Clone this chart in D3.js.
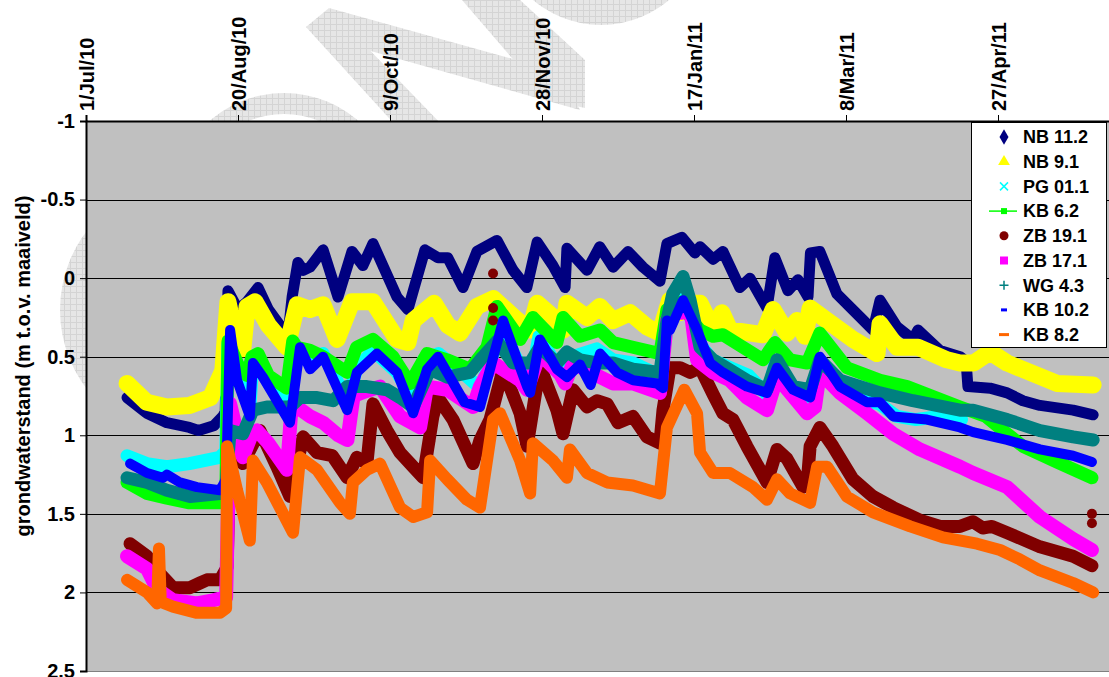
<!DOCTYPE html>
<html><head><meta charset="utf-8">
<script src="https://cdn.jsdelivr.net/npm/d3@7"></script>
<style>
body{margin:0;background:#fff}
svg{display:block}
text{font-family:"Liberation Sans",Arial,sans-serif;font-weight:bold;fill:#000}
</style>
</head><body>
<svg id="chart" width="1109" height="677"></svg>
<script>
// ---------- data ----------
const startDate = "2010-07-01";           // day 0 of the day offsets below
const xDomain = ["2010-07-01", "2011-06-16"];
const xTickDates = ["2010-07-01","2010-08-20","2010-10-09","2010-11-28","2011-01-17","2011-03-08","2011-04-27"];
const xTickLabels = ["1/Jul/10","20/Aug/10","9/Oct/10","28/Nov/10","17/Jan/11","8/Mar/11","27/Apr/11"];
const yTicks = [-1, -0.5, 0, 0.5, 1, 1.5, 2, 2.5];
const yTickLabels = ["-1","-0.5","0","0.5","1","1.5","2","2.5"];
const yTitle = "grondwaterstand (m t.o.v. maaiveld)";

const seriesNames  = ["NB 11.2","NB 9.1","PG 01.1","KB 6.2","ZB 19.1","ZB 17.1","WG 4.3","KB 10.2","KB 8.2"];
const seriesColors = ["#000080","#FFFF00","#00FFFF","#00FF00","#800000","#FF00FF","#008080","#0000FF","#FF6600"];

// [days since startDate, groundwater level (m below surface)]
const nb112 = [[13.5,0.76],[20,0.86],[26.6,0.92],[34,0.95],[37,0.97],[42,0.94],[45,0.88],[45.8,0.85],[46.7,0.08],[50,0.20],[53,0.15],[56.6,0.06],[60,0.20],[66.4,0.37],[67.8,0.12],[69.7,-0.10],[71.5,-0.05],[73.7,-0.07],[78,-0.18],[82.9,0.12],[87.5,-0.17],[91.1,-0.08],[94.4,-0.22],[102.3,0.12],[105.9,0.20],[111.5,-0.18],[115.8,-0.13],[119,-0.13],[124,0.06],[128.6,-0.17],[135.2,-0.24],[140.5,-0.05],[145,0.06],[148.4,-0.23],[153.6,-0.08],[157.6,0.06],[158.2,-0.19],[164.8,-0.05],[169,-0.20],[173.4,-0.07],[178.3,-0.17],[183.2,-0.07],[188.8,0.02],[191.1,-0.22],[196,-0.26],[200.3,-0.16],[202,-0.20],[206.3,-0.12],[209.5,-0.17],[215.1,0.06],[218.4,0.00],[224,0.19],[226.6,-0.13],[230.9,0.08],[234.2,0.01],[237.5,0.12],[238.3,-0.16],[241.4,-0.17],[247,0.10],[258.9,0.33],[261.2,0.14],[266.8,0.31],[272,0.39],[273.7,0.33],[280.9,0.46],[287.5,0.50],[289.5,0.53],[290.1,0.69],[297.4,0.70],[303,0.73],[308.2,0.78],[313.8,0.81],[324.7,0.84],[331.3,0.87]];
const nb91 = [[13.5,0.67],[20,0.79],[26.6,0.82],[34,0.81],[41,0.76],[45,0.59],[46.7,0.15],[49.5,0.40],[51.6,0.45],[53,0.18],[55.6,0.15],[60,0.30],[66.1,0.44],[69.4,0.17],[73.7,0.20],[78,0.17],[82.6,0.39],[87.5,0.15],[94.4,0.15],[102.3,0.39],[105.9,0.41],[107.6,0.27],[114.5,0.16],[119,0.30],[123,0.35],[128.6,0.18],[134,0.13],[142,0.27],[146,0.33],[148.4,0.16],[155,0.27],[157,0.33],[158.2,0.16],[164.8,0.25],[169,0.18],[173.4,0.27],[179,0.22],[184.5,0.31],[188.8,0.35],[192,0.14],[195.4,0.22],[199.7,0.16],[202,0.16],[206.3,0.33],[209.2,0.22],[211.8,0.33],[222.7,0.36],[226,0.20],[230.6,0.35],[233.9,0.27],[236.5,0.37],[238.2,0.19],[243.8,0.27],[252.3,0.39],[260.2,0.48],[261.2,0.29],[266.8,0.44],[273.7,0.44],[283.2,0.52],[287.5,0.54],[292,0.54],[297.4,0.47],[303,0.54],[319.4,0.67],[331.3,0.68]];
const pg011 = [[13.5,1.13],[20,1.18],[26.6,1.20],[34,1.18],[44,1.14],[46,1.10],[46.7,0.42],[50,0.62],[54,0.80],[55,0.50],[58,0.60],[66,0.85],[68,0.42],[73.7,0.50],[78,0.48],[85.9,0.78],[89,0.58],[94.4,0.46],[102.3,0.60],[106.6,0.74],[111,0.52],[116,0.48],[125,0.62],[129.6,0.70],[134,0.48],[136,0.30],[145,0.64],[146,0.68],[149,0.37],[155,0.56],[158,0.60],[160,0.50],[168,0.45],[173.4,0.52],[180,0.54],[188.8,0.62],[192,0.22],[196,0.10],[199,0.22],[202,0.42],[206,0.52],[212,0.57],[218,0.62],[224,0.74],[226.6,0.55],[231,0.68],[236,0.78],[238.2,0.80],[241.4,0.53],[248,0.66],[256,0.78],[261,0.80],[266.8,0.88],[273,0.90],[281,0.88],[288,0.90]];
const kb62 = [[13.5,1.30],[20,1.37],[26.6,1.40],[34,1.43],[44,1.43],[46,1.40],[46.7,0.40],[50,0.55],[53,0.62],[54.6,0.50],[56.6,0.48],[60,0.62],[66,0.70],[68,0.40],[69.4,0.44],[73.7,0.46],[78,0.50],[85.9,0.60],[89,0.44],[94.4,0.39],[101,0.50],[106.6,0.67],[112.2,0.48],[118.8,0.52],[126.3,0.58],[131.9,0.44],[135.2,0.18],[142.8,0.39],[147,0.25],[154.9,0.41],[156.9,0.25],[162.5,0.37],[169.1,0.33],[173.4,0.41],[179.9,0.44],[188.8,0.48],[191.1,0.20],[196.1,0.15],[199.7,0.28],[202,0.33],[206.3,0.37],[209.5,0.36],[222.7,0.52],[226.6,0.41],[231.6,0.52],[237.2,0.54],[241.4,0.35],[250.3,0.57],[261.2,0.65],[270.1,0.69],[287.5,0.82],[296,0.88],[303,0.99],[308.2,1.07],[319.4,1.17],[330.9,1.27]];
const zb191 = [[14.5,1.69],[20.1,1.77],[24.3,1.88],[28.6,1.97],[34.2,1.97],[37.5,1.94],[39.8,1.92],[44.1,1.92],[46.4,1.84],[47.5,1.05],[51.6,1.18],[57.2,0.97],[62.8,1.20],[67.1,1.39],[71.4,1.01],[76,1.11],[81,1.13],[85.9,1.27],[89.1,1.14],[92.4,1.18],[94.4,0.80],[99,0.97],[103.3,1.11],[107.6,1.20],[110.9,1.27],[114.1,0.88],[115.8,0.76],[120.7,0.90],[127.3,1.18],[129.6,1.03],[132.9,0.90],[137.2,0.58],[142.8,0.86],[145.1,1.07],[149.3,0.56],[154.9,0.84],[156.9,0.99],[160.2,0.71],[164.8,0.82],[168.1,0.78],[171.4,0.80],[175,0.92],[179.9,0.88],[184.5,1.01],[188.8,1.05],[189.8,0.84],[192.1,0.57],[195.4,0.57],[198.7,0.60],[202,0.57],[206.3,0.74],[209.5,0.86],[212.8,0.90],[217.4,1.07],[224,1.30],[227.3,1.09],[230.6,1.15],[235.9,1.33],[237.5,1.24],[238.2,1.07],[241.4,0.95],[245.7,1.07],[252.3,1.28],[258.9,1.39],[265.5,1.46],[274.3,1.54],[281,1.58],[287.5,1.58],[291.8,1.55],[295,1.59],[298,1.58],[303,1.62],[313.8,1.71],[324.7,1.77],[330.9,1.83]];
const zb191Outliers = [[133.9,-0.03],[133.9,0.19],[133.9,0.27],[133.9,0.44],[113.2,0.97],[113.2,1.04],[330.9,1.50],[330.9,1.56]];
const zb171 = [[13.5,1.77],[20.1,1.85],[23.4,1.98],[28.6,2.05],[36.5,2.07],[41.8,2.05],[46.1,2.03],[46.8,1.40],[47.4,0.80],[48.4,0.88],[51.6,1.14],[54.6,0.99],[56.3,0.97],[60,1.05],[66.1,1.22],[67.5,0.85],[69.4,0.82],[73.7,0.88],[78,0.92],[83,1.00],[86,1.03],[88,0.75],[92,0.72],[96.7,0.69],[103.3,0.88],[109.9,0.95],[112.2,0.69],[118.8,0.71],[127.3,0.82],[129.6,0.69],[133.9,0.54],[142.8,0.65],[145.1,0.71],[149.3,0.48],[155.9,0.61],[157.6,0.67],[160.2,0.54],[168.1,0.62],[173.4,0.67],[179.9,0.67],[188.8,0.73],[191.1,0.27],[193.1,0.19],[196,0.22],[198.7,0.18],[201,0.52],[206.3,0.60],[211.8,0.65],[217.4,0.76],[224,0.84],[227.3,0.63],[231.6,0.73],[237.2,0.86],[239.8,0.82],[241.4,0.60],[248,0.73],[256.9,0.86],[265.5,0.99],[274.3,1.09],[287.5,1.20],[291.8,1.24],[303,1.33],[313.8,1.52],[324.7,1.66],[330.9,1.73]];
const wg43 = [[13.5,1.27],[20.1,1.30],[26.6,1.35],[34.2,1.39],[44.1,1.37],[46,1.33],[47.4,0.97],[51.6,0.99],[54.9,0.84],[59.5,0.82],[67.1,0.82],[70.4,0.76],[76,0.76],[81.3,0.78],[85.9,0.69],[92.4,0.69],[99,0.71],[103.3,0.76],[107.6,0.82],[113.2,0.58],[118.8,0.63],[126.3,0.60],[130.6,0.50],[135.2,0.40],[140.5,0.54],[146.1,0.54],[149.3,0.44],[154.9,0.54],[158.2,0.47],[162.5,0.52],[168.1,0.54],[173.4,0.54],[179.9,0.58],[188.8,0.60],[191.1,0.27],[193,0.10],[196.4,-0.01],[198.7,0.14],[202,0.44],[206.3,0.52],[217.4,0.65],[224,0.71],[227.3,0.52],[232.6,0.69],[238.2,0.71],[241.4,0.52],[248,0.65],[261.2,0.73],[272,0.78],[287.5,0.84],[291.8,0.84],[303,0.90],[313.8,0.97],[324.7,1.01],[331.3,1.03]];
const kb102 = [[14.5,1.18],[20.1,1.24],[25.3,1.27],[26.6,1.25],[30.9,1.30],[36.5,1.33],[44.1,1.35],[46.1,1.28],[47.4,0.33],[49.7,0.65],[53.9,0.88],[54.9,0.54],[58.2,0.63],[67.1,0.92],[70.4,0.44],[73.7,0.58],[78,0.50],[85.9,0.84],[89.1,0.60],[95.7,0.48],[102.3,0.60],[107.6,0.86],[112.2,0.58],[115.8,0.50],[124.5,0.79],[129.6,0.82],[132.9,0.58],[137.2,0.27],[145.1,0.69],[146.1,0.73],[149.3,0.39],[154.9,0.58],[158.2,0.63],[162.5,0.55],[166,0.68],[169.1,0.48],[174.7,0.60],[180,0.65],[187.8,0.67],[189.8,0.70],[191.1,0.27],[192.1,0.33],[196.4,0.14],[201,0.33],[205.3,0.54],[209.5,0.60],[217.4,0.69],[224,0.73],[227.3,0.57],[232.6,0.71],[238.2,0.76],[241.4,0.50],[248,0.69],[256.9,0.79],[261.2,0.79],[265.5,0.88],[276.6,0.90],[287.5,0.95],[291.8,0.98],[303,1.03],[313.8,1.09],[324.7,1.13],[330.9,1.17]];
const kb82 = [[13.5,1.92],[20.1,2.00],[23.4,2.07],[24,1.72],[24.6,2.06],[28.6,2.09],[36.5,2.13],[44.1,2.13],[46.1,2.10],[46.4,1.07],[49.7,1.35],[53.9,1.67],[54.9,1.16],[59.5,1.30],[68.1,1.62],[70.4,1.14],[76,1.22],[83.6,1.43],[86.8,1.50],[87.8,1.30],[92.4,1.22],[96.7,1.18],[103.3,1.46],[107.6,1.52],[112.2,1.49],[113.2,1.16],[118.8,1.28],[125.3,1.41],[129.6,1.46],[133.9,0.90],[136.2,0.86],[142.8,1.16],[146.1,1.37],[147,1.05],[153.6,1.16],[158.2,1.27],[159.2,1.09],[164.8,1.24],[171.4,1.30],[179.9,1.32],[188.8,1.37],[191.1,0.95],[196.8,0.71],[201,0.86],[202,1.11],[206.3,1.24],[211.8,1.24],[219.4,1.33],[224,1.41],[227.3,1.28],[231.6,1.37],[238.2,1.43],[240.5,1.20],[243.8,1.20],[250.3,1.39],[258.9,1.49],[271.1,1.58],[281.9,1.65],[293.1,1.69],[300.7,1.73],[307.2,1.79],[313.8,1.86],[324.7,1.94],[331.3,2.00]];

const seriesData = [nb112, nb91, pg011, kb62, zb191, zb171, wg43, kb102, kb82];

// ---------- layout / style ----------
const W = 1109, H = 677;
const plot = {left: 86, top: 121, right: 1150, bottom: 671};
const bandWidths = [11, 17, 13, 13, 13, 14, 13, 10, 12];

const parse = d3.timeParse("%Y-%m-%d");
const t0 = parse(startDate);
const toDate = d => new Date(t0.getTime() + d * 86400000);

const x = d3.scaleTime().domain(xDomain.map(parse)).range([plot.left, plot.right]);
const y = d3.scaleLinear().domain([yTicks[0], yTicks[yTicks.length-1]]).range([plot.top, plot.bottom]);

const svg = d3.select("#chart");
const defs = svg.append("defs");
const pat = defs.append("pattern").attr("id","wm").attr("width",6).attr("height",6).attr("patternUnits","userSpaceOnUse");
pat.append("rect").attr("width",6).attr("height",6).attr("fill","#e6e6e6");
pat.append("path").attr("d","M0 0.5H6M0.5 0V6").attr("stroke","#d4d4d4").attr("stroke-width",1);
defs.append("clipPath").attr("id","plotclip").append("rect")
  .attr("x",plot.left).attr("y",plot.top).attr("width",plot.right-plot.left).attr("height",plot.bottom-plot.top);

// faint watermark behind the chart
const wm = svg.append("g").attr("fill","url(#wm)");
const ring = d3.arc();
wm.append("path").attr("transform","translate(190,310)")
  .attr("d", ring({innerRadius:100, outerRadius:130, startAngle:0, endAngle:2*Math.PI}));
wm.append("path").attr("transform","translate(284,206)")
  .attr("d", ring({innerRadius:92, outerRadius:113, startAngle:0, endAngle:2*Math.PI}));
wm.append("path").attr("transform","translate(601,-80)")
  .attr("d", ring({innerRadius:80, outerRadius:105, startAngle:0, endAngle:2*Math.PI}));
wm.append("polygon").attr("points","306,27 329,8 445,128 398,128");
wm.append("polygon").attr("points","329,8 560,72 580,110 360,48");
wm.append("polygon").attr("points","462,0 520,0 585,60 585,108 548,100");

// plot area
svg.append("rect").attr("x",plot.left).attr("y",plot.top)
  .attr("width",plot.right-plot.left).attr("height",plot.bottom-plot.top).attr("fill","#C0C0C0");

// gridlines
svg.append("g").selectAll("line").data(yTicks.slice(1)).join("line")
  .attr("x1",plot.left).attr("x2",plot.right)
  .attr("y1",d=>Math.round(y(d))+0.5).attr("y2",d=>Math.round(y(d))+0.5)
  .attr("stroke",(d,i,a)=> i===a.length-1 ? "#808080" : "#000").attr("stroke-width",1);

// series
const line = d3.line().x(d=>x(toDate(d[0]))).y(d=>y(d[1]));
const sg = svg.append("g").attr("clip-path","url(#plotclip)");
seriesData.forEach((data,i)=>{
  sg.append("path").datum(data).attr("d",line)
    .attr("fill","none").attr("stroke",seriesColors[i]).attr("stroke-width",bandWidths[i])
    .attr("stroke-linejoin","round").attr("stroke-linecap","round");
  if (i === 4) {
    sg.append("g").selectAll("circle").data(zb191Outliers).join("circle")
      .attr("cx",d=>x(toDate(d[0]))).attr("cy",d=>y(d[1])).attr("r",5).attr("fill",seriesColors[4]);
  }
});

// axes
const yAxis = d3.axisLeft(y).tickValues(yTicks).tickFormat((d,i)=>yTickLabels[i]).tickSize(6).tickPadding(5);
const gy = svg.append("g").attr("transform",`translate(${plot.left},0)`).call(yAxis);
gy.select(".domain").attr("stroke","#000").attr("stroke-width",2);
gy.selectAll(".tick line").attr("stroke","#000");
gy.selectAll("text").style("font-size","20px").style("font-family","'Liberation Sans',Arial,sans-serif").style("font-weight","bold");

const xAxis = d3.axisTop(x).tickValues(xTickDates.map(parse)).tickFormat((d,i)=>xTickLabels[i]).tickSize(6).tickPadding(6);
const gx = svg.append("g").attr("transform",`translate(0,${plot.top})`).call(xAxis);
gx.select(".domain").attr("stroke","#000").attr("stroke-width",2);
gx.selectAll(".tick line").attr("stroke","#000");
gx.selectAll("text")
  .style("font-size","20px").style("font-family","'Liberation Sans',Arial,sans-serif").style("font-weight","bold")
  .attr("text-anchor","start").attr("x",0).attr("y",0).attr("dy",null)
  .attr("transform","translate(7,-10) rotate(-90)");

// y title
svg.append("text").attr("transform","translate(30,366) rotate(-90)")
  .attr("text-anchor","middle").style("font-size","20px").text(yTitle);

// legend
const lg = svg.append("g");
lg.append("rect").attr("x",971.5).attr("y",122.5).attr("width",135).attr("height",225)
  .attr("fill","#fff").attr("stroke","#000").attr("stroke-width",1);
const rowY = i => 137 + i*24.7;
const mx = 1004;
seriesNames.forEach((name,i)=>{
  const cy = rowY(i), c = seriesColors[i];
  const g = lg.append("g");
  if (i===0) g.append("path").attr("d",d3.symbol(d3.symbolDiamond,70)()).attr("transform",`translate(${mx},${cy})`).attr("fill",c);
  if (i===1) g.append("path").attr("d",d3.symbol(d3.symbolTriangle,60)()).attr("transform",`translate(${mx},${cy})`).attr("fill",c);
  if (i===2) g.append("path").attr("d",`M${mx-4},${cy-4}L${mx+4},${cy+4}M${mx-4},${cy+4}L${mx+4},${cy-4}`).attr("stroke",c).attr("stroke-width",1.5);
  if (i===3) { g.append("line").attr("x1",989).attr("x2",1017).attr("y1",cy).attr("y2",cy).attr("stroke",c).attr("stroke-width",1.5);
               g.append("rect").attr("x",mx-3).attr("y",cy-3).attr("width",6).attr("height",6).attr("fill",c); }
  if (i===4) g.append("circle").attr("cx",mx).attr("cy",cy).attr("r",4.5).attr("fill",c);
  if (i===5) g.append("rect").attr("x",mx-4).attr("y",cy-4).attr("width",8).attr("height",8).attr("fill",c);
  if (i===6) g.append("path").attr("d",`M${mx-4.5},${cy}H${mx+4.5}M${mx},${cy-4.5}V${cy+4.5}`).attr("stroke",c).attr("stroke-width",1.5);
  if (i===7) g.append("rect").attr("x",mx-3).attr("y",cy-1.5).attr("width",6).attr("height",3).attr("fill",c);
  if (i===8) g.append("rect").attr("x",mx-5).attr("y",cy-1.5).attr("width",10).attr("height",3).attr("fill",c);
  g.append("text").attr("x",1023).attr("y",cy).attr("dy","0.35em").style("font-size","18px").text(name);
});
</script>
</body></html>
